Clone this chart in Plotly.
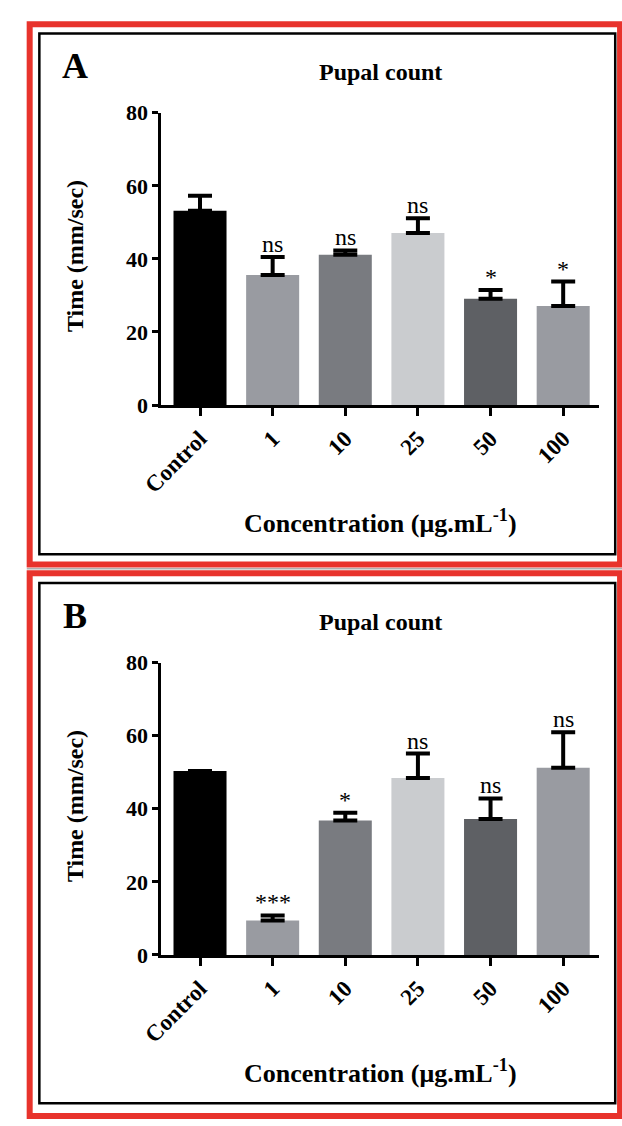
import plotly.graph_objects as go

categories = ["Control", "1", "10", "25", "50", "100"]
a_means = [53.2, 35.6, 41.1, 47.1, 29.1, 27.1]
a_errors = [4.1, 4.9, 1.2, 4.0, 2.4, 6.7]
a_marks = ["", "ns", "ns", "ns", "*", "*"]
b_means = [50.3, 9.4, 36.8, 48.4, 37.2, 51.2]
b_errors = [0.0, 1.4, 2.1, 6.7, 5.6, 9.7]
b_marks = ["", "***", "*", "ns", "ns", "ns"]
y_ticks = [0, 20, 40, 60, 80]
bar_colors = ["#000000", "#999ba1", "#797b80", "#cacccf", "#5e6064", "#999ba1"]
panel_letters = ["A", "B"]
panel_title = "Pupal count"
y_title = "Time (mm/sec)"
x_title = "Concentration (μg.mL<sup>-1</sup>)"

W, H = 622, 1126
FONT = "Liberation Serif"


def px(x):
    return x / W


def py(y):
    return 1 - y / H


fig = go.Figure()

panels = [
    ("x", "y", a_means, a_errors, a_marks),
    ("x2", "y2", b_means, b_errors, b_marks),
]
for xa, ya, means, errs, marks in panels:
    fig.add_trace(go.Bar(
        x=categories, y=means, xaxis=xa, yaxis=ya,
        marker=dict(color=bar_colors, line=dict(width=0)),
        width=0.73,
        error_y=dict(type="data", symmetric=False, array=errs,
                     arrayminus=[0] * len(errs), color="black",
                     thickness=4, width=12),
        showlegend=False,
    ))
    for i, (m, e, t) in enumerate(zip(means, errs, marks)):
        if t:
            fig.add_annotation(x=i, y=m + e, xref=xa, yref=ya, text=t,
                               showarrow=False, xanchor="center",
                               yanchor="bottom", yshift=-2,
                               font=dict(family=FONT, size=24, color="black"))

x_dom = [px(146), px(598)]
axis_common = dict(showline=True, linewidth=3, linecolor="black",
                   ticks="outside", tickcolor="black", tickwidth=3,
                   showgrid=False, zeroline=False)
xaxis_cfg = dict(axis_common, domain=x_dom, range=[-0.533, 5.49],
                 type="category", tickangle=-45, ticklen=8,
                 tickfont=dict(family=FONT, size=23, color="black", weight="bold"))
yaxis_cfg = dict(axis_common, range=[0, 80], tickvals=y_ticks, ticklen=6,
                 tickfont=dict(family=FONT, size=22, color="black", weight="bold"))

fig.update_layout(
    width=W, height=H,
    margin=dict(l=0, r=0, t=0, b=0),
    paper_bgcolor="white", plot_bgcolor="white",
    xaxis=dict(xaxis_cfg, anchor="y"),
    yaxis=dict(yaxis_cfg, domain=[py(402), py(103)], anchor="x"),
    xaxis2=dict(xaxis_cfg, anchor="y2"),
    yaxis2=dict(yaxis_cfg, domain=[py(964.3), py(665.3)], anchor="x2"),
)

offsets = [0, 562.5]
for letter, off in zip(panel_letters, offsets):
    common = dict(xref="paper", yref="paper", showarrow=False,
                  xanchor="center", yanchor="middle")
    fig.add_annotation(x=px(56.5), y=py(55 + off), text=letter,
                       font=dict(family=FONT, size=36, color="black", weight="bold"),
                       **common)
    fig.add_annotation(x=px(372.5), y=py(61 + off), text=panel_title,
                       font=dict(family=FONT, size=24, color="black", weight="bold"),
                       **common)
    fig.add_annotation(x=px(57.5), y=py(250 + off), text=y_title, textangle=-90,
                       font=dict(family=FONT, size=24, color="black", weight="bold"),
                       **common)
    fig.add_annotation(x=px(372.5), y=py(521 + off), text=x_title,
                       font=dict(family=FONT, size=26, color="black", weight="bold"),
                       **common)

shapes = []
red = "#e8332c"
shapes.append(dict(type="rect", xref="paper", yref="paper",
                   x0=px(10), x1=px(620), y0=py(12.5), y1=py(565),
                   line=dict(color=red, width=6)))
shapes.append(dict(type="rect", xref="paper", yref="paper",
                   x0=px(10), x1=px(620), y0=py(574), y1=py(1129),
                   line=dict(color=red, width=6)))
shapes.append(dict(type="line", xref="paper", yref="paper",
                   x0=px(7), x1=px(622), y0=py(569.5), y1=py(569.5),
                   line=dict(color="#b0b0b0", width=1.5)))
shapes.append(dict(type="rect", xref="paper", yref="paper",
                   x0=px(20), x1=px(615), y0=py(22), y1=py(554.5),
                   line=dict(color="black", width=2.5)))
shapes.append(dict(type="rect", xref="paper", yref="paper",
                   x0=px(20), x1=px(615), y0=py(584), y1=py(1116),
                   line=dict(color="black", width=2.5)))
fig.update_layout(shapes=shapes)

fig.write_html("out.html", config={"displayModeBar": False},
               post_script="document.body.style.margin='0';document.body.style.overflow='hidden';")
